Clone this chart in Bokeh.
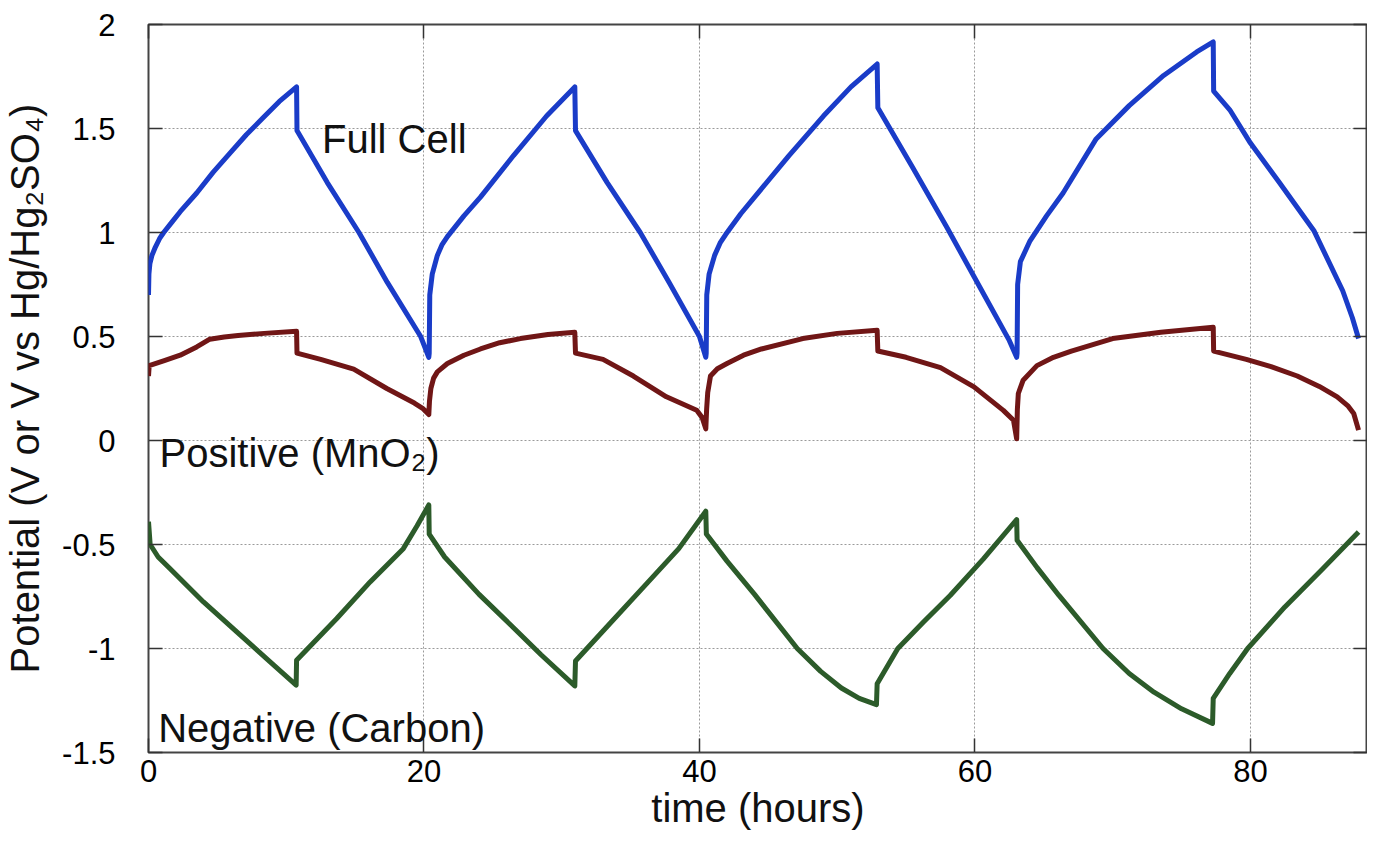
from bokeh.plotting import figure
from bokeh.models import LinearAxis, Label, Range1d, FixedTicker
from bokeh.embed import file_html
from bokeh.resources import INLINE

# ---- data ----
full_t = [0, 0.03, 0.1, 0.25, 0.5, 0.8, 1.1, 1.7, 2.3, 3.5, 4.7, 5.9, 7.1, 8.3, 9.5, 10.75,
          10.78, 12.98, 15.28, 17.34, 19.76, 20.35,
          20.38, 20.42, 20.6, 20.97, 21.3, 21.7, 22.9, 24.1, 26.5, 28.9, 30.95,
          31.0, 33.3, 35.7, 37.8, 40.0, 40.46,
          40.49, 40.53, 40.7, 41.1, 41.5, 41.9, 43.0, 44.0, 46.5, 49.0, 51.0, 52.9,
          52.95, 55.5, 58.0, 60.5, 62.5, 63.03,
          63.06, 63.1, 63.3, 64.0, 65.2, 66.4, 68.8, 71.2, 73.7, 76.1, 77.3,
          77.33, 78.5, 80.0, 82.1, 84.6, 86.7, 87.4, 87.85]
full_v = [0.70, 0.80, 0.85, 0.89, 0.93, 0.97, 1.00, 1.05, 1.10, 1.19, 1.29, 1.38, 1.47, 1.55, 1.63, 1.70,
          1.49, 1.24, 1.00, 0.76, 0.50, 0.40,
          0.42, 0.70, 0.80, 0.89, 0.94, 0.98, 1.08, 1.17, 1.37, 1.56, 1.70,
          1.49, 1.24, 1.00, 0.76, 0.50, 0.40,
          0.42, 0.70, 0.80, 0.89, 0.95, 0.99, 1.09, 1.17, 1.37, 1.56, 1.70, 1.81,
          1.60, 1.31, 1.02, 0.72, 0.48, 0.40,
          0.42, 0.75, 0.86, 0.96, 1.08, 1.19, 1.45, 1.61, 1.755, 1.868, 1.916,
          1.68, 1.59, 1.43, 1.24, 1.01, 0.72, 0.59, 0.49]

pos_t = [0, 0.05, 1.2, 2.3, 3.5, 4.45, 5.5, 6.5, 8.4, 10.75,
         10.78, 12.5, 14.9, 17.3, 19.3, 19.9, 20.35,
         20.4, 20.5, 20.7, 20.97, 21.7, 22.9, 24.1, 25.5, 27.0, 29.0, 30.95,
         31.0, 33.0, 35.2, 37.6, 39.8, 40.2, 40.46,
         40.52, 40.6, 40.8, 41.3, 42.0, 43.2, 44.5, 47.5, 50.0, 52.9,
         52.95, 55.0, 57.5, 59.93, 62.06, 62.8, 63.03,
         63.08, 63.15, 63.5, 64.5, 65.7, 67.0, 70.0, 73.5, 77.3,
         77.33, 79.7, 81.5, 83.4, 85.0, 86.3, 87.1, 87.5, 87.85]
pos_v = [0.31, 0.36, 0.385, 0.41, 0.45, 0.487, 0.498, 0.505, 0.515, 0.525,
         0.42, 0.39, 0.343, 0.25, 0.18, 0.155, 0.125,
         0.19, 0.25, 0.30, 0.33, 0.37, 0.41, 0.44, 0.47, 0.49, 0.51, 0.52,
         0.42, 0.39, 0.31, 0.21, 0.145, 0.11, 0.056,
         0.15, 0.23, 0.31, 0.345, 0.37, 0.41, 0.44, 0.49, 0.515, 0.53,
         0.43, 0.40, 0.35, 0.258, 0.145, 0.097, 0.008,
         0.15, 0.226, 0.29, 0.36, 0.40, 0.43, 0.49, 0.52, 0.545,
         0.43, 0.39, 0.355, 0.31, 0.26, 0.21, 0.165, 0.13, 0.05]

neg_t = [0, 0.12, 0.7, 1.57, 3.99, 6.41, 8.83, 10.72,
         10.75, 13.67, 16.09, 18.5, 19.5, 20.35,
         20.38, 21.5, 24.0, 26.5, 28.5, 30.95,
         31.0, 33.5, 36.0, 38.5, 40.46,
         40.5, 42.0, 44.0, 47.1, 48.8, 50.3, 51.6, 52.85,
         52.9, 54.4, 56.3, 58.2, 60.6, 63.03,
         63.06, 64.5, 66.1, 69.3, 71.2, 73.0, 75.0, 77.25,
         77.3, 78.5, 79.8, 82.5, 85.2, 87.85]
neg_v = [-0.39, -0.50, -0.56, -0.617, -0.776, -0.92, -1.064, -1.176,
         -1.056, -0.856, -0.68, -0.52, -0.41, -0.31,
         -0.45, -0.56, -0.74, -0.90, -1.03, -1.18,
         -1.06, -0.88, -0.70, -0.52, -0.34,
         -0.45, -0.58, -0.74, -1.0, -1.11, -1.19, -1.24, -1.27,
         -1.17, -1.0, -0.87, -0.745, -0.57, -0.38,
         -0.48, -0.61, -0.745, -1.0, -1.12, -1.21, -1.29, -1.36,
         -1.24, -1.12, -1.0, -0.80, -0.62, -0.44]

x_ticks = [0, 20, 40, 60, 80]
y_ticks = [-1.5, -1, -0.5, 0, 0.5, 1, 1.5, 2]
y_tick_labels = {-1.5: "-1.5", -1: "-1", -0.5: "-0.5", 0: "0", 0.5: "0.5",
                 1: "1", 1.5: "1.5", 2: "2"}

FONT = "Liberation Sans"

p = figure(width=1367, height=843, output_backend="svg", toolbar_location=None,
           x_range=Range1d(0, 88.5), y_range=Range1d(-1.5, 2.0),
           min_border_left=148, min_border_right=0, min_border_top=24,
           min_border_bottom=91, x_axis_label="time (hours)",
           y_axis_label="Potential (V or V vs Hg/Hg\u2082SO\u2084)")
p.background_fill_color = "white"
p.border_fill_color = "white"
p.outline_line_color = "#444444"
p.outline_line_width = 2

for ax in (p.xaxis[0], p.yaxis[0]):
    ax.axis_line_color = None
    ax.major_tick_in = 14
    ax.major_tick_out = 0
    ax.major_tick_line_color = "#333333"
    ax.major_tick_line_width = 1.5
    ax.minor_tick_line_color = None
    ax.major_label_text_font = FONT
    ax.major_label_text_font_size = "31px"
    ax.major_label_text_color = "black"
    ax.axis_label_text_font = FONT
    ax.axis_label_text_font_size = "40px"
    ax.axis_label_text_font_style = "normal"
    ax.axis_label_text_color = "#111111"

p.xaxis[0].ticker = FixedTicker(ticks=x_ticks)
p.yaxis[0].ticker = FixedTicker(ticks=y_ticks)
p.yaxis[0].major_label_overrides = y_tick_labels
p.xaxis[0].major_label_standoff = 7
p.xaxis[0].axis_label_standoff = 1
p.yaxis[0].major_label_standoff = 33
p.yaxis[0].axis_label_standoff = 12

# mirrored ticks (gnuplot style) on top and right
top = LinearAxis(ticker=FixedTicker(ticks=x_ticks),
                 major_label_overrides={t: "" for t in x_ticks})
right = LinearAxis(ticker=FixedTicker(ticks=y_ticks),
                   major_label_overrides={t: "" for t in y_ticks})
for ax in (top, right):
    ax.axis_line_color = None
    ax.major_tick_in = 14
    ax.major_tick_out = 0
    ax.major_tick_line_color = "#333333"
    ax.major_tick_line_width = 1.5
    ax.minor_tick_line_color = None
    ax.major_label_standoff = 0
    ax.major_label_text_font_size = "1px"
p.add_layout(top, "above")
p.add_layout(right, "right")

p.xgrid.ticker = FixedTicker(ticks=x_ticks)
p.ygrid.ticker = FixedTicker(ticks=y_ticks)
for g in (p.xgrid[0], p.ygrid[0]):
    g.grid_line_color = "#9a9a9a"
    g.grid_line_dash = "2 2"
    g.grid_line_width = 1

p.line(full_t, full_v, line_color="#1a3cc8", line_width=5, line_join="round")
p.line(pos_t, pos_v, line_color="#701616", line_width=5, line_join="round")
p.line(neg_t, neg_v, line_color="#2c5b2a", line_width=5, line_join="round")

for txt, x, y in [("Full Cell", 12.6, 1.45),
                  ("Positive (MnO\u2082)", 0.8, -0.06),
                  ("Negative (Carbon)", 0.7, -1.38)]:
    p.add_layout(Label(x=x, y=y, text=txt, text_font=FONT, text_font_size="40px",
                       text_color="#111111", text_baseline="alphabetic"))

open("out.html", "w").write(file_html(p, INLINE))
